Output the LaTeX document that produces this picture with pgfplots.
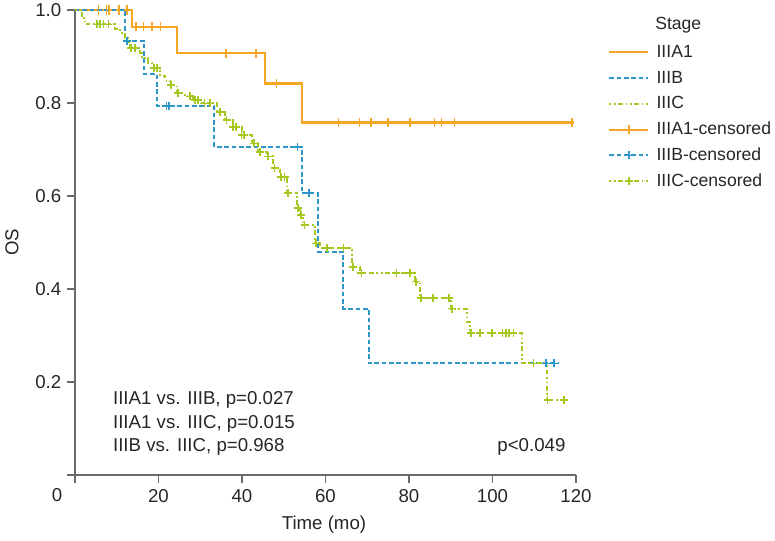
\documentclass[border=0pt]{standalone}
\usepackage{fontspec}
\setmainfont{Liberation Sans}
\usepackage{pgfplots}
\pgfplotsset{compat=1.18}
\definecolor{cOr}{RGB}{245,166,35}
\definecolor{cBl}{RGB}{45,150,200}
\definecolor{cGr}{RGB}{165,200,30}
\definecolor{axgray}{RGB}{105,105,105}
\newcommand{\fs}{\fontsize{14}{16}\selectfont}
\newcommand{\fl}{\fontsize{13.2}{15}\selectfont}
\tikzset{
  orline/.style={cOr, line width=1.7pt},
  blline/.style={cBl, line width=1.5pt, dash pattern=on 3.5pt off 2pt},
  grline/.style={cGr, line width=1.5pt, dash pattern=on 1.3pt off 2pt on 1.3pt off 2pt on 3.5pt off 2pt},
}
\begin{document}
\begin{tikzpicture}
\path[use as bounding box] (-56.25pt,-49.5pt) rectangle (525pt,356.25pt);
\begin{axis}[
  scale only axis, width=375.75pt, height=348.75pt,
  xmin=0, xmax=120, ymin=0, ymax=1,
  axis lines=left,
  axis line style={axgray, line width=0.9pt, -},
  tick style={axgray, line width=0.9pt},
  tick align=outside, major tick length=6pt,
  xtick={0,20,40,60,80,100,120}, xticklabels={,20,40,60,80,100,120},
  ytick={0,0.2,0.4,0.6,0.8,1}, yticklabels={,0.2,0.4,0.6,0.8,1.0},
  ticklabel style={font=\fs, text=black!85},
  xticklabel style={anchor=center, yshift=-9.5pt},
  yticklabel style={anchor=east, xshift=-0.75pt},
  xlabel={Time (mo)}, ylabel={OS},
  label style={font=\fs, text=black!85},
  xlabel style={at={(axis description cs:0.497,-0.1075)}, anchor=center},
  ylabel style={at={(axis description cs:-0.1257,0.5)}, anchor=center},
  clip=false,
  legend image code/.code={\draw[mark repeat=2,mark phase=2,#1] plot coordinates {(0pt,0pt) (14.5pt,0pt) (29pt,0pt)};},
  legend style={at={(rel axis cs:1.064,0.929)}, anchor=north west, draw=none, fill=none,
    font=\fl, inner sep=0pt, row sep=5.85pt, column sep=5.5pt,
    nodes={inner sep=0pt, text height=10.5pt, text depth=3pt, text=black!85}},
  legend cell align=left,
]
% IIIA1
\addplot[orline, const plot, forget plot] coordinates {
(0,1) (13.6,0.964) (24.5,0.907) (45.5,0.842) (54.3,0.758) (119.5,0.758)};
\addplot[cOr, only marks, mark=|, mark size=3.5pt, mark options={line width=1.2pt}, forget plot] coordinates {
(5.6,1) (7.5,1) (8.2,1) (10.5,1) (12.4,1)
(14.6,0.964) (16.4,0.964) (18.4,0.964) (20.5,0.964)
(36.2,0.907) (43.4,0.907) (48.3,0.842)
(63.1,0.758) (68.1,0.758) (70.9,0.758) (75.0,0.758) (80.2,0.758) (86.1,0.758) (87.8,0.758) (90.9,0.758) (119.0,0.758)};
% IIIB
\addplot[blline, const plot, forget plot] coordinates {
(0,1) (12.0,0.934) (16.5,0.862) (19.6,0.794) (33.4,0.706) (54.3,0.606) (58.3,0.480) (64.3,0.358) (70.3,0.240) (115.7,0.240)};
\addplot[cBl, only marks, mark=+, mark size=3pt, mark options={solid, line width=1.3pt}, forget plot] coordinates {
(12.5,0.934) (21.9,0.794) (22.6,0.794) (53.3,0.706) (56.1,0.606) (112.8,0.240) (114.7,0.240)};
% IIIC
\addplot[grline, const plot, forget plot] coordinates {
(0,1.0) (1.6,0.983) (2.4,0.969) (9.6,0.960) (10.8,0.951) (12.0,0.940) (12.7,0.931) (13.2,0.918)
(15.6,0.907) (16.0,0.896) (17.6,0.887) (18.4,0.876) (20.4,0.857) (21.6,0.848) (22.8,0.839)
(24.4,0.822) (26.3,0.814) (28.3,0.806) (30.3,0.799) (34.0,0.781) (35.9,0.763) (37.9,0.749)
(39.9,0.731) (42.3,0.713) (43.9,0.695) (45.9,0.685) (47.5,0.660) (49.1,0.641) (50.7,0.606)
(53.1,0.574) (53.9,0.559) (54.7,0.538) (57.5,0.498) (58.7,0.488) (66.3,0.448) (68.3,0.434)
(81.4,0.416) (82.6,0.380) (90.0,0.358) (93.8,0.330) (94.6,0.305) (107.0,0.240) (113.0,0.161) (117.6,0.161)};
\addplot[cGr, only marks, mark=+, mark size=3pt, mark options={solid, line width=1.3pt}, forget plot] coordinates {
(5.2,0.969) (6.0,0.969) (6.8,0.969) (8.0,0.969) (13.5,0.918) (14.3,0.918)
(19.0,0.876) (19.6,0.876) (23.0,0.839) (24.7,0.822) (27.5,0.814) (28.8,0.806) (29.5,0.806)
(31.0,0.799) (32.3,0.799) (34.7,0.781) (36.3,0.763) (37.9,0.749) (38.5,0.749) (39.9,0.731)
(40.5,0.731) (42.8,0.713) (44.3,0.695) (46.3,0.685) (47.8,0.660) (49.4,0.641) (50.2,0.641)
(51.0,0.606) (53.4,0.574) (54.2,0.559) (55.0,0.538) (57.8,0.498) (60.3,0.488) (64.3,0.488)
(66.6,0.448) (68.6,0.434) (77.0,0.434) (80.2,0.434) (81.7,0.416) (82.9,0.380) (85.8,0.380)
(89.6,0.380) (90.3,0.358) (94.9,0.305) (97.0,0.305) (99.8,0.305) (102.4,0.305) (103.2,0.305)
(104.0,0.305) (105.0,0.305) (109.8,0.240) (113.2,0.161) (117.1,0.161)};
% legend
\addlegendimage{orline}\addlegendentry{IIIA1}
\addlegendimage{blline}\addlegendentry{IIIB}
\addlegendimage{grline}\addlegendentry{IIIC}
\addlegendimage{orline, mark=|, mark size=3.5pt, mark options={solid, line width=1.2pt}}\addlegendentry{IIIA1-censored}
\addlegendimage{blline, mark=+, mark size=3pt, mark options={solid, line width=1.3pt}}\addlegendentry{IIIB-censored}
\addlegendimage{grline, mark=+, mark size=3pt, mark options={solid, line width=1.3pt}}\addlegendentry{IIIC-censored}
% legend title
\node[anchor=west, font=\fl, text=black!85, inner sep=0pt] at (rel axis cs:1.1577,0.967) {Stage};
% annotations
\node[anchor=west, font=\fs, text=black!85] at (axis cs:8.0,0.161) {IIIA1 vs. IIIB, p=0.027};
\node[anchor=west, font=\fs, text=black!85] at (axis cs:8.0,0.109) {IIIA1 vs. IIIC, p=0.015};
\node[anchor=west, font=\fs, text=black!85] at (axis cs:8.0,0.060) {IIIB vs. IIIC, p=0.968};
\node[anchor=east, font=\fs, text=black!85] at (axis cs:118.6,0.060) {p<0.049};
\node[font=\fs, text=black!85, xshift=-13.5pt, yshift=-15pt] at (axis cs:0,0) {0};
\end{axis}
\end{tikzpicture}
\end{document}
